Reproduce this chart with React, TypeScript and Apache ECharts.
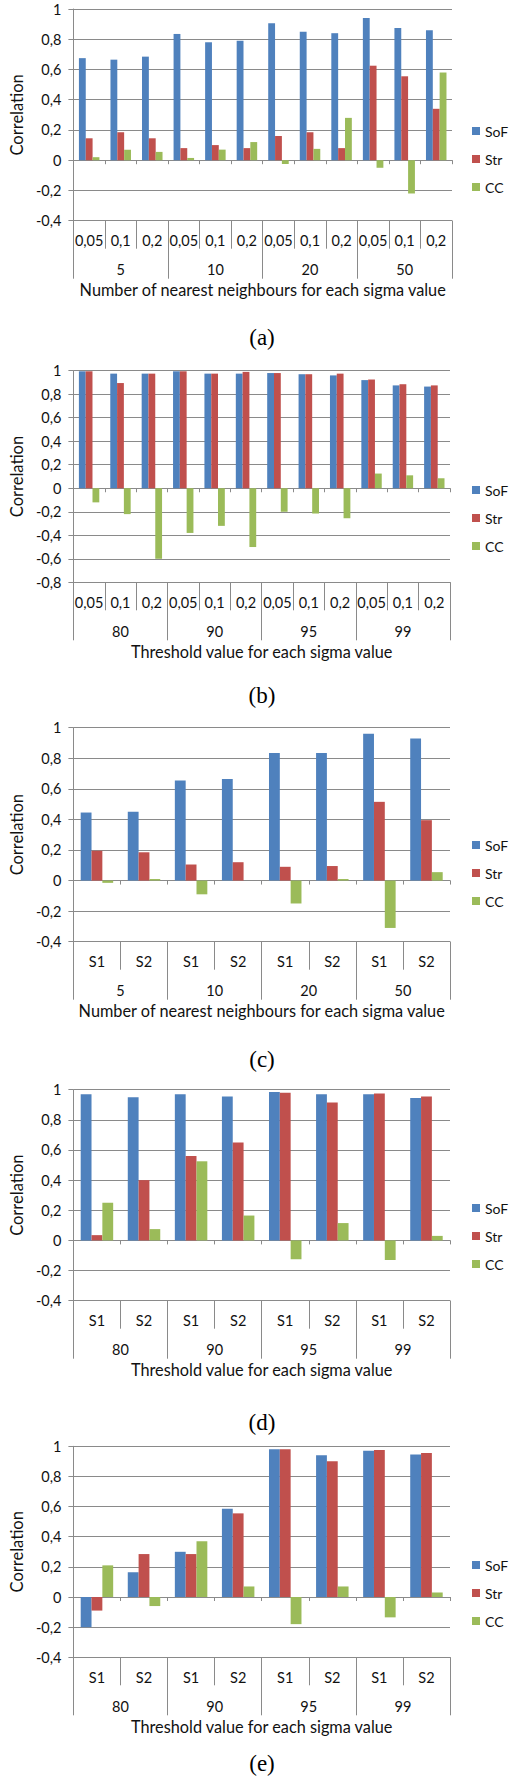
import React, { useEffect, useRef } from "react";
import * as echarts from "echarts";

// ---------- data ----------
const seriesNames = ["SoF", "Str", "CC"];

const sigmaLabels = ["0,05", "0,1", "0,2"];
const sLabels = ["S1", "S2"];
const neighbourGroups = ["5", "10", "20", "50"];
const thresholdGroups = ["80", "90", "95", "99"];

const xTitleNeighbours = "Number of nearest neighbours for each sigma value";
const xTitleThreshold = "Threshold value for each sigma value";
const yTitle = "Correlation";
const panelTags = ["(a)", "(b)", "(c)", "(d)", "(e)"];

// (a)
const aSoF = [0.675, 0.665, 0.685, 0.835, 0.78, 0.79, 0.905, 0.85, 0.84, 0.94, 0.875, 0.86];
const aStr = [0.145, 0.185, 0.145, 0.08, 0.1, 0.08, 0.16, 0.185, 0.08, 0.625, 0.555, 0.34];
const aCC = [0.02, 0.07, 0.055, 0.015, 0.07, 0.12, -0.025, 0.075, 0.28, -0.05, -0.22, 0.58];
// (b)
const bSoF = [0.995, 0.975, 0.975, 0.995, 0.975, 0.975, 0.98, 0.97, 0.96, 0.92, 0.875, 0.865];
const bStr = [0.995, 0.895, 0.975, 0.995, 0.975, 0.99, 0.98, 0.97, 0.975, 0.925, 0.885, 0.875];
const bCC = [-0.12, -0.22, -0.6, -0.38, -0.32, -0.5, -0.2, -0.215, -0.255, 0.125, 0.11, 0.085];
// (c)
const cSoF = [0.445, 0.45, 0.655, 0.665, 0.835, 0.835, 0.96, 0.93];
const cStr = [0.195, 0.185, 0.105, 0.12, 0.09, 0.095, 0.515, 0.395];
const cCC = [-0.015, 0.01, -0.09, 0.0, -0.15, 0.01, -0.31, 0.055];
// (d)
const dSoF = [0.97, 0.95, 0.97, 0.955, 0.985, 0.97, 0.97, 0.945];
const dStr = [0.035, 0.4, 0.56, 0.65, 0.98, 0.915, 0.975, 0.955];
const dCC = [0.25, 0.075, 0.525, 0.165, -0.125, 0.115, -0.13, 0.03];
// (e)
const eSoF = [-0.2, 0.165, 0.3, 0.585, 0.98, 0.94, 0.97, 0.945];
const eStr = [-0.09, 0.285, 0.285, 0.555, 0.98, 0.9, 0.975, 0.955];
const eCC = [0.21, -0.06, 0.37, 0.07, -0.18, 0.07, -0.135, 0.03];

const yMins = [-0.4, -0.8, -0.4, -0.4, -0.4];
const yMax = 1;
const yStep = 0.2;

// ---------- styles / layout ----------
const COLORS = ["#4F81BD", "#C0504D", "#9BBB59"];
const FONT = "Lato, 'Open Sans', sans-serif";
const SERIF = "'Liberation Serif', 'DejaVu Serif', serif";
const GRID_COLOR = "#8a8a8a";
const TEXT_COLOR = "#111";
const TICK_FONT = 14.5;
const LEGEND_FONT = 14;
const TITLE_FONT = 16.3;
const YTITLE_FONT = 16.5;

const panels = [
  { sub: sigmaLabels, groups: neighbourGroups, xTitle: xTitleNeighbours, values: [aSoF, aStr, aCC] },
  { sub: sigmaLabels, groups: thresholdGroups, xTitle: xTitleThreshold, values: [bSoF, bStr, bCC] },
  { sub: sLabels, groups: neighbourGroups, xTitle: xTitleNeighbours, values: [cSoF, cStr, cCC] },
  { sub: sLabels, groups: thresholdGroups, xTitle: xTitleThreshold, values: [dSoF, dStr, dCC] },
  { sub: sLabels, groups: thresholdGroups, xTitle: xTitleThreshold, values: [eSoF, eStr, eCC] },
];

const layouts = [
  { left: 59, top: 9, width: 393, height: 211.7, legendTop: 122, tagY: 337, gap: "35%" },
  { left: 61, top: 370.7, width: 389, height: 211.6, legendTop: 481, tagY: 695, gap: "35%" },
  { left: 58, top: 727.7, width: 392, height: 214, legendTop: 836, tagY: 1059, gap: "31%" },
  { left: 58, top: 1089.7, width: 392, height: 211, legendTop: 1199, tagY: 1422, gap: "31%" },
  { left: 59, top: 1446.3, width: 391, height: 211, legendTop: 1556, tagY: 1763, gap: "31%" },
];

const fmt = (v: number) => {
  const r = Math.round(v * 10) / 10;
  if (Math.abs(r) < 1e-9) return "0";
  return String(r).replace(".", ",");
};

function buildOption() {
  const grid: any[] = [];
  const xAxis: any[] = [];
  const yAxis: any[] = [];
  const series: any[] = [];
  const legend: any[] = [];
  const graphic: any[] = [];

  panels.forEach((p, i) => {
    const L = layouts[i];
    const cats: string[] = [];
    p.groups.forEach(() => p.sub.forEach((s) => cats.push(s)));

    grid.push({ left: L.left, top: L.top, width: L.width, height: L.height, containLabel: false });

    yAxis.push({
      gridIndex: i,
      type: "value",
      min: yMins[i],
      max: yMax,
      interval: yStep,
      name: yTitle,
      nameLocation: "middle",
      nameGap: 37,
      nameTextStyle: { fontFamily: FONT, fontSize: YTITLE_FONT, color: TEXT_COLOR },
      axisLine: { show: true, lineStyle: { color: GRID_COLOR, width: 1 } },
      axisTick: { show: true, length: 5, lineStyle: { color: GRID_COLOR } },
      axisLabel: { margin: 12, formatter: fmt, fontFamily: FONT, fontSize: TICK_FONT, color: TEXT_COLOR },
      splitLine: { show: true, lineStyle: { color: GRID_COLOR, width: 1 } },
    });

    // zero-line axis (carries the bars)
    xAxis.push({
      gridIndex: i,
      type: "category",
      data: cats,
      axisLine: { show: true, onZero: true, lineStyle: { color: GRID_COLOR } },
      axisTick: { show: true, length: 4, lineStyle: { color: GRID_COLOR } },
      axisLabel: { show: false },
      splitLine: { show: false },
    });
    // sub-category label row
    xAxis.push({
      gridIndex: i,
      type: "category",
      position: "bottom",
      data: cats,
      name: p.xTitle,
      nameLocation: "middle",
      nameGap: 69,
      nameTextStyle: { fontFamily: FONT, fontSize: TITLE_FONT, color: TEXT_COLOR, verticalAlign: "middle" },
      axisLine: { show: false, onZero: false },
      axisTick: { show: true, length: 28, lineStyle: { color: GRID_COLOR } },
      axisLabel: { interval: 0, margin: 20, verticalAlign: "middle", fontFamily: FONT, fontSize: TICK_FONT, color: TEXT_COLOR },
      splitLine: { show: false },
    });
    // group label row
    xAxis.push({
      gridIndex: i,
      type: "category",
      position: "bottom",
      data: p.groups,
      axisLine: { show: false, onZero: false },
      axisTick: { show: true, length: 58, lineStyle: { color: GRID_COLOR } },
      axisLabel: { interval: 0, margin: 49, verticalAlign: "middle", fontFamily: FONT, fontSize: TICK_FONT, color: TEXT_COLOR },
      splitLine: { show: false },
    });

    seriesNames.forEach((name, k) => {
      series.push({
        type: "bar",
        name,
        xAxisIndex: i * 3,
        yAxisIndex: i,
        data: p.values[k],
        itemStyle: { color: COLORS[k] },
        barGap: "0%",
        barCategoryGap: L.gap,
      });
    });

    legend.push({
      orient: "vertical",
      left: 472,
      top: L.legendTop,
      padding: 0,
      itemGap: 10,
      itemWidth: 8,
      itemHeight: 8,
      icon: "rect",
      data: seriesNames,
      textStyle: { fontFamily: FONT, fontSize: LEGEND_FONT, color: TEXT_COLOR, lineHeight: 18 },
    });

    graphic.push({
      type: "text",
      x: 262,
      y: L.tagY,
      style: {
        text: panelTags[i],
        font: `23px ${SERIF}`,
        fill: "#000",
        align: "center",
        verticalAlign: "middle",
        textAlign: "center",
        textVerticalAlign: "middle",
      },
    });
  });

  return {
    animation: false,
    backgroundColor: "#fff",
    color: COLORS,
    grid,
    xAxis,
    yAxis,
    series,
    legend,
    graphic,
  };
}

export default function App() {
  const ref = useRef<HTMLDivElement>(null);
  useEffect(() => {
    if (!ref.current) return;
    const chart = echarts.init(ref.current, undefined, { renderer: "svg" });
    chart.setOption(buildOption());
    return () => chart.dispose();
  }, []);
  return (
    <div
      ref={ref}
      style={{ position: "absolute", left: 0, top: 0, width: 512, height: 1780, background: "#fff" }}
    />
  );
}
